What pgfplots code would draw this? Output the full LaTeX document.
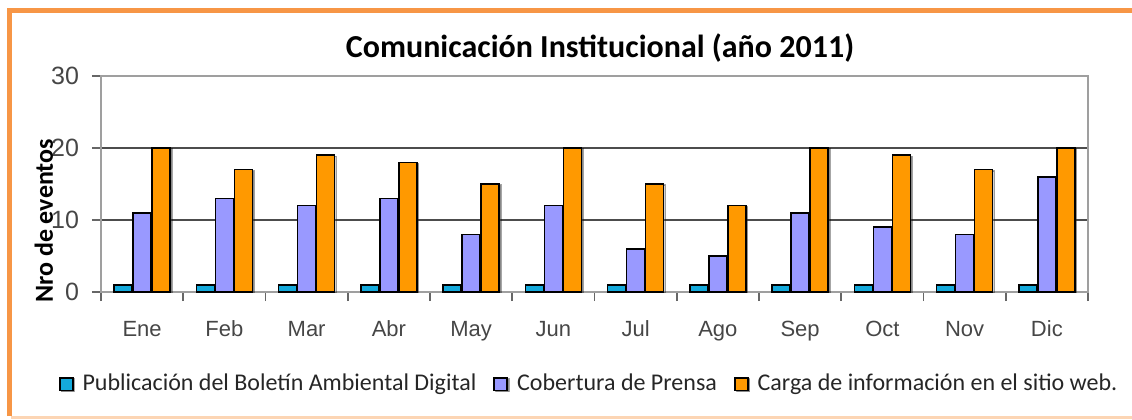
\documentclass[border=0pt]{standalone}
\usepackage{fontspec}
\setmainfont{Carlito}
\newfontfamily\arial{Liberation Sans}
\usepackage{pgfplots}
\pgfplotsset{compat=1.18}
\usetikzlibrary{shadows}
\definecolor{frameor}{RGB}{247,150,70}
\definecolor{frameorl}{RGB}{252,213,180}
\definecolor{cyanbar}{RGB}{20,170,220}
\definecolor{lavbar}{RGB}{153,153,255}
\definecolor{orbar}{RGB}{255,153,0}
\definecolor{ticktext}{RGB}{70,70,70}
\begin{document}
\begin{tikzpicture}
\path[use as bounding box] (0,0) rectangle (566pt,209.5pt);
\draw[frameor, line width=2.5pt] (4.5pt,1.5pt) -- (4.5pt,204.5pt) -- (566pt,204.5pt);
\draw[frameorl, line width=1.2pt] (5.5pt,0.8pt) -- (566pt,0.8pt);
\node[font=\bfseries\fontsize{16}{18}\selectfont, text=black] at (300pt,185.5pt) {Comunicación Institucional (año 2011)};
\begin{axis}[
  at={(50.5pt,63.5pt)}, anchor=south west,
  scale only axis, width=493.5pt, height=108pt,
  ymin=0, ymax=30, ytick={0,10,20,30},
  xmin=-0.5, xmax=11.5,
  xtick={0,...,11},
  xticklabels={Ene,Feb,Mar,Abr,May,Jun,Jul,Ago,Sep,Oct,Nov,Dic},
  minor xtick={-0.5,0.5,...,11.5},
  major x tick style={draw=none},
  tick align=outside, tick pos=left,
  major tick length=4.5pt, minor tick length=4.5pt,
  every tick/.style={gray!80!black, line width=0.8pt},
  axis line style={gray!75, line width=1pt},
  ymajorgrids, grid style={black!70, line width=0.7pt},
  /pgf/number format/assume math mode=true,
  tick label style={text=ticktext},
  yticklabel style={xshift=-3pt, font=\arial\fontsize{12.5}{14}\selectfont},
  xticklabel style={yshift=-6pt, font=\arial\fontsize{11}{13}\selectfont, text height=8pt, text depth=2pt},
  ylabel={Nro de eventos},
  ylabel style={at={(axis description cs:-0.0578,0.329)}, anchor=center, font=\bfseries\fontsize{13}{15}\selectfont},
  ybar=0.5pt, bar width=9pt,
  legend columns=3,
  legend style={at={(0.4955,-0.426)}, anchor=center, draw=none, fill=none,
    font=\fontsize{12}{14}\selectfont, text=black!85,
    /tikz/every odd column/.append style={column sep=2.5pt},
    /tikz/every even column/.append style={column sep=6.5pt}},
  legend image code/.code={\draw[#1, line width=0.9pt] (0pt,-3.2pt) rectangle (6.5pt,3.2pt);},
  every axis plot/.append style={drop shadow={shadow xshift=0.9pt, shadow yshift=-0.6pt, opacity=0.35}},
]
\addplot[fill=cyanbar, draw=black, line width=0.8pt] coordinates {(0,1)(1,1)(2,1)(3,1)(4,1)(5,1)(6,1)(7,1)(8,1)(9,1)(10,1)(11,1)};
\addplot[fill=lavbar, draw=black, line width=0.8pt] coordinates {(0,11)(1,13)(2,12)(3,13)(4,8)(5,12)(6,6)(7,5)(8,11)(9,9)(10,8)(11,16)};
\addplot[fill=orbar, draw=black, line width=0.8pt] coordinates {(0,20)(1,17)(2,19)(3,18)(4,15)(5,20)(6,15)(7,12)(8,20)(9,19)(10,17)(11,20)};
\legend{Publicación del Boletín Ambiental Digital, Cobertura de Prensa, Carga de información en el sitio web.}
\end{axis}
\end{tikzpicture}
\end{document}
